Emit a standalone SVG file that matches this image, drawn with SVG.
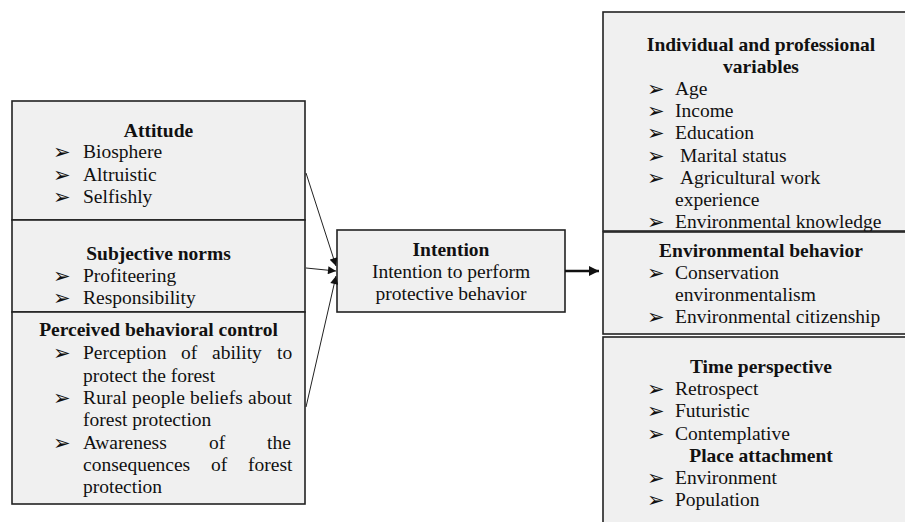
<svg xmlns="http://www.w3.org/2000/svg" width="905" height="522" viewBox="0 0 905 522">
<style>
.box{fill:#f0f0f0;stroke:#222;stroke-width:1.6}
text{font-family:"Liberation Serif","Times New Roman",serif;font-size:19.5px;fill:#111}
.t{font-weight:bold;text-anchor:middle}
.b{font-family:"DejaVu Sans",sans-serif;font-size:21px}
.ln{stroke:#222;stroke-width:1;fill:none}
.thick{stroke:#111;stroke-width:2.6;fill:none}
</style>
<defs>
<marker id="ah" viewBox="0 0 10 10" refX="10" refY="5" markerWidth="10" markerHeight="8" markerUnits="userSpaceOnUse" orient="auto">
<path d="M0,0 L10,5 L0,10 z" fill="#111"/>
</marker>
<marker id="ah2" viewBox="0 0 10 10" refX="10" refY="5" markerWidth="12" markerHeight="10" markerUnits="userSpaceOnUse" orient="auto">
<path d="M0,0 L10,5 L0,10 z" fill="#111"/>
</marker>
</defs>

<g id="attitude">
<rect class="box" x="12" y="101" width="293" height="119"/>
<text class="t" x="158.5" y="137">Attitude</text>
<text class="b" x="53" y="159">➢</text><text x="83" y="158">Biosphere</text>
<text class="b" x="53" y="182">➢</text><text x="83" y="181">Altruistic</text>
<text class="b" x="53" y="204">➢</text><text x="83" y="203">Selfishly</text>
</g>

<g id="subjective-norms">
<rect class="box" x="12" y="220" width="293" height="92"/>
<text class="t" x="158.5" y="260">Subjective norms</text>
<text class="b" x="53" y="283">➢</text><text x="83" y="282">Profiteering</text>
<text class="b" x="53" y="305">➢</text><text x="83" y="304">Responsibility</text>
</g>

<g id="perceived-behavioral-control">
<rect class="box" x="12" y="312" width="293" height="192"/>
<text class="t" x="158.5" y="336">Perceived behavioral control</text>
<text class="b" x="53" y="360">➢</text>
<text y="359"><tspan x="83">Perception</tspan><tspan x="181">of</tspan><tspan x="212">ability</tspan><tspan x="277">to</tspan></text>
<text x="83" y="382">protect the forest</text>
<text class="b" x="53" y="405">➢</text>
<text x="83" y="404" textLength="209" lengthAdjust="spacing">Rural people beliefs about</text>
<text x="83" y="426">forest protection</text>
<text class="b" x="53" y="450">➢</text>
<text y="449"><tspan x="83">Awareness</tspan><tspan x="209">of</tspan><tspan x="267">the</tspan></text>
<text y="471"><tspan x="83">consequences</tspan><tspan x="211">of</tspan><tspan x="248">forest</tspan></text>
<text x="83" y="493">protection</text>
</g>

<g id="intention">
<rect class="box" x="337" y="230" width="228" height="82"/>
<text class="t" x="451" y="256">Intention</text>
<text x="451" y="278" text-anchor="middle">Intention to perform</text>
<text x="451" y="300" text-anchor="middle">protective behavior</text>
</g>

<g id="individual-variables">
<rect class="box" x="603" y="12" width="320" height="219"/>
<text class="t" x="761" y="51">Individual and professional</text>
<text class="t" x="761" y="73">variables</text>
<text class="b" x="647" y="96">➢</text><text x="675" y="95">Age</text>
<text class="b" x="647" y="118">➢</text><text x="675" y="117">Income</text>
<text class="b" x="647" y="140">➢</text><text x="675" y="139">Education</text>
<text class="b" x="647" y="163">➢</text><text x="680" y="162">Marital status</text>
<text class="b" x="647" y="185">➢</text><text x="680" y="184">Agricultural work</text>
<text x="675" y="206">experience</text>
<text class="b" x="647" y="229">➢</text><text x="675" y="228">Environmental knowledge</text>
</g>

<g id="environmental-behavior">
<rect class="box" x="603" y="232" width="320" height="102"/>
<text class="t" x="761" y="257">Environmental behavior</text>
<text class="b" x="647" y="280">➢</text><text x="675" y="279">Conservation</text>
<text x="675" y="301">environmentalism</text>
<text class="b" x="647" y="324">➢</text><text x="675" y="323">Environmental citizenship</text>
</g>

<g id="time-perspective-place-attachment">
<rect class="box" x="603" y="337" width="320" height="200"/>
<text class="t" x="761" y="373">Time perspective</text>
<text class="b" x="647" y="396">➢</text><text x="675" y="395">Retrospect</text>
<text class="b" x="647" y="418">➢</text><text x="675" y="417">Futuristic</text>
<text class="b" x="647" y="441">➢</text><text x="675" y="440">Contemplative</text>
<text class="t" x="761" y="462">Place attachment</text>
<text class="b" x="647" y="485">➢</text><text x="675" y="484">Environment</text>
<text class="b" x="647" y="507">➢</text><text x="675" y="506">Population</text>
</g>

<g id="connectors">
<line class="ln" x1="306" y1="173" x2="336" y2="266" marker-end="url(#ah)"/>
<line class="ln" x1="306" y1="268" x2="336" y2="271" marker-end="url(#ah)"/>
<line class="ln" x1="306" y1="407" x2="336" y2="276" marker-end="url(#ah)"/>
<line class="thick" x1="565" y1="271" x2="599" y2="271" marker-end="url(#ah2)"/>
</g>
</svg>
